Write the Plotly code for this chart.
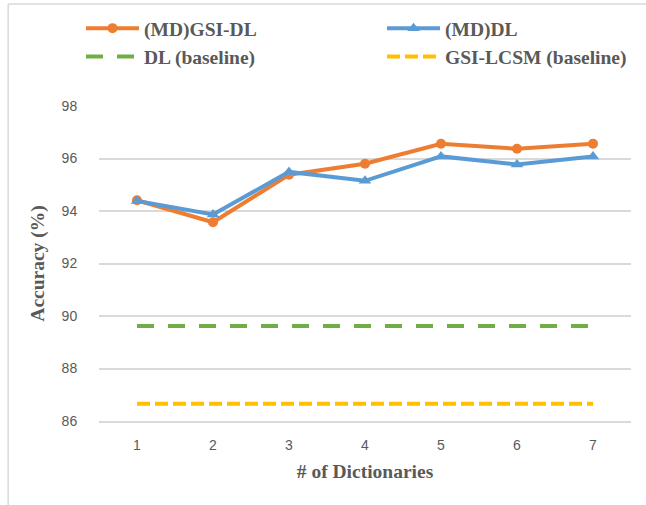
import plotly.graph_objects as go

categories = [1, 2, 3, 4, 5, 6, 7]
md_gsi_dl = [94.41, 93.57, 95.38, 95.80, 96.56, 96.37, 96.56]
md_dl = [94.38, 93.87, 95.49, 95.15, 96.08, 95.77, 96.08]
dl_baseline = [89.62, 89.62, 89.62, 89.62, 89.62, 89.62, 89.62]
gsi_lcsm_baseline = [86.66, 86.66, 86.66, 86.66, 86.66, 86.66, 86.66]
y_ticks = [86, 88, 90, 92, 94, 96, 98]

ORANGE = "#ED7D31"
BLUE = "#5B9BD5"
GREEN = "#70AD47"
YELLOW = "#FFC000"
TEXT = "#595959"
GRID = "#D9D9D9"
SERIF = "Liberation Serif"
FS = 19.5

fig = go.Figure()
fig.add_trace(go.Scatter(
    x=categories, y=md_gsi_dl, name="<b>(MD)GSI-DL</b>", mode="lines+markers",
    line=dict(color=ORANGE, width=4), marker=dict(symbol="circle", size=10, color=ORANGE)))
fig.add_trace(go.Scatter(
    x=categories, y=md_dl, name="<b>(MD)DL</b>", mode="lines+markers",
    line=dict(color=BLUE, width=4), marker=dict(symbol="triangle-up", size=11, color=BLUE)))
fig.add_trace(go.Scatter(
    x=categories, y=dl_baseline, name="<b>DL (baseline)</b>", mode="lines",
    line=dict(color=GREEN, width=4, dash="17px,14px")))
fig.add_trace(go.Scatter(
    x=categories, y=gsi_lcsm_baseline, name="<b>GSI-LCSM (baseline)</b>", mode="lines",
    line=dict(color=YELLOW, width=4, dash="13px,5px")))

# chart frame (only left and top edges visible)
fig.add_shape(type="line", xref="paper", yref="paper", x0=-0.1707, x1=1.05, y0=1.3238, y1=1.3238,
              line=dict(color=GRID, width=1.5))
fig.add_shape(type="line", xref="paper", yref="paper", x0=-0.1707, x1=-0.1707, y0=1.3238, y1=-0.3,
              line=dict(color=GRID, width=1.5))

fig.update_layout(
    width=646, height=505,
    margin=dict(l=99, r=15, t=106, b=84, autoexpand=False),
    paper_bgcolor="white", plot_bgcolor="white",
    showlegend=True,
    hovermode=False,
    legend=dict(
        orientation="h", x=-0.0338, xanchor="left", y=1.308, yanchor="top",
        entrywidth=233, entrywidthmode="pixels", itemwidth=53,
        font=dict(family=SERIF, size=FS, color=TEXT),
        bgcolor="rgba(0,0,0,0)", tracegroupgap=0,
    ),
    xaxis=dict(
        range=[0.5, 7.5], tickvals=categories, ticktext=[str(c) for c in categories],
        showgrid=False, showline=True, linecolor=GRID, linewidth=1.5, zeroline=False,
        tickfont=dict(family="Liberation Sans", size=14, color=TEXT),
        ticks="outside", ticklen=10, tickcolor="rgba(0,0,0,0)",
        title=dict(text="<b># of Dictionaries</b>", font=dict(family=SERIF, size=FS, color=TEXT), standoff=13),
    ),
    yaxis=dict(
        range=[86, 98], tickvals=y_ticks, ticktext=[str(t) for t in y_ticks],
        showgrid=True, gridcolor=GRID, gridwidth=1.5, zeroline=False, showline=False,
        tickfont=dict(family="Liberation Sans", size=14, color=TEXT),
        ticks="outside", ticklen=18, tickcolor="rgba(0,0,0,0)",
        title=dict(text="<b>Accuracy (%)</b>", font=dict(family=SERIF, size=FS, color=TEXT), standoff=11),
    ),
)

fig.write_html("out.html", config={"displayModeBar": False})

# remove the browser's default page margin so the figure sits at the window origin
with open("out.html", "r", encoding="utf-8") as f:
    html = f.read()
html = html.replace("<head>", "<head><style>html,body{margin:0;padding:0;overflow:hidden;}</style>", 1)
with open("out.html", "w", encoding="utf-8") as f:
    f.write(html)
